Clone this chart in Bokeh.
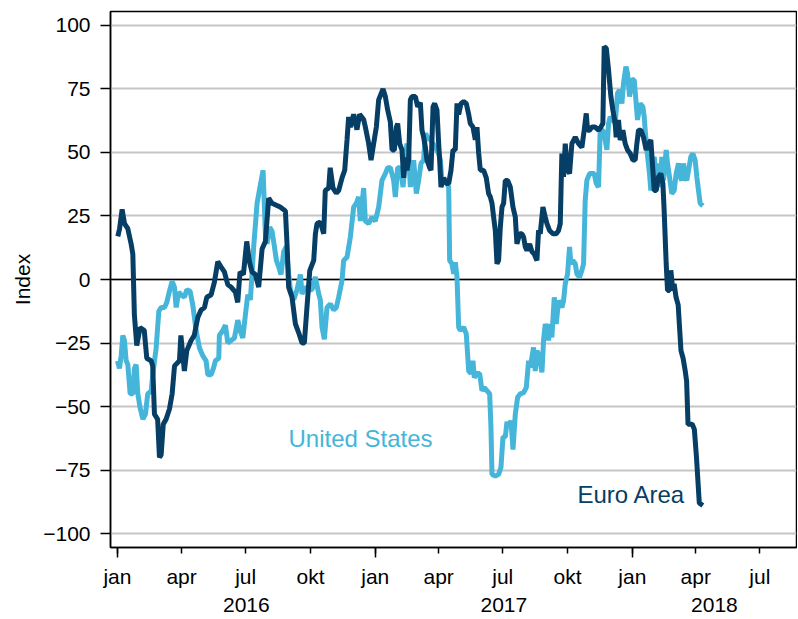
import pandas as pd
from bokeh.plotting import figure
from bokeh.models import (Range1d, FixedTicker, DatetimeAxis, Span, Label,
                          ColumnDataSource)
from bokeh.embed import file_html
from bokeh.resources import INLINE

# ---------------- data (days since 2016-01-01, index value) ----------------
start_date = "2016-01-01"

ea_days = [0.5, 3, 6.6, 10, 14.7, 19.4, 21.8, 24, 27.4, 32, 38, 41.6, 47.8, 50, 52.5, 57,
           59.6, 62, 65, 69, 73.8, 77.6, 81, 88, 90, 95, 98.4, 104.5, 109, 114, 118.7,
           123.5, 126.8, 133, 137.6, 142.4, 147, 151.8, 156.6, 161.3, 167.4, 170.7, 174,
           178.8, 183.5, 187.3, 191, 195.8, 200.5, 205.3, 210, 214.7, 219.4, 231, 238.4,
           240.7, 243, 247.8, 252.6, 257.3, 262, 265.3, 269, 273, 278.6, 281, 283.3, 288,
           292.8, 295, 299.9, 302, 306, 310.7, 314, 318.8, 322.6, 325.9, 328.2, 330.6,
           335.3, 340, 343.8, 349.5, 351.9, 356.6, 360, 363.7, 367.5, 370.8, 377, 380.3,
           383.6, 387.4, 389.8, 393.1, 395.9, 397.8, 400.6, 403.9, 406.3, 408.7, 411,
           413.4, 415.8, 418.1, 422.9, 426.2, 430, 432.3, 434.7, 437.1, 439.4, 443.2,
           445.1, 448, 450.3, 453.6, 456, 457.4, 459.3, 463.1, 466.9, 470.2, 473.5, 476.3,
           479.6, 482, 484.4, 487.7, 491.5, 495.2, 498.6, 500.9, 504.7, 508, 510.4, 512.7,
           515.1, 519.8, 523.6, 526.9, 529.3, 531.7, 534, 536.4, 538.8, 541.1, 543.5,
           545.9, 548.2, 550.6, 553.9, 557.7, 561.5, 564.8, 567.1, 570.9, 574.2, 576.6,
           579, 581.3, 585.1, 588.4, 591.7, 595.5, 597.8, 600.2, 604, 607.3, 609.7, 613.4,
           618.2, 622.9, 626.2, 628.6, 630.9, 633.3, 635.7, 639, 641.8, 645.1, 649.9,
           654.6, 659.3, 662.6, 665.5, 667.4, 670.2, 673.5, 678.2, 683, 686.3, 689.1, 691,
           694, 697, 700.5, 703.3, 706.6, 708, 711.3, 713.7, 717.5, 720.8, 724.1, 727.9,
           731.7, 735, 737.4, 739.7, 743, 746.8, 750.6, 753.9, 757.2, 760.1, 762, 764.8,
           768.1, 771.4, 774.3, 776.1, 779, 780.9, 783.7, 785.6, 788.4, 790.3, 793, 796,
           800, 803, 806, 808, 810, 816, 819, 822, 826, 831]
ea_vals = [17, 20, 27.6, 22, 20, 14, 10, -14, -26, -19, -20, -31, -32, -34, -53, -55,
           -70, -69, -57, -55, -51, -45, -34, -32, -22, -36, -28, -24, -22, -15, -12,
           -11, -7, -6, -1, 7, 5, 3, -2, -3, -5, -9, 3,
           2, 15, 7, 3, 2, -3, 12, 15, 32, 30, 28.5, 27,
           14, -3, -7, -17.5, -21, -25, -25, -11, 3.5, 7.5, 18, 22, 22.6,
           18, 35, 36, 44, 36, 34, 35, 40, 43, 55, 64, 60,
           65, 59, 65, 63, 60, 53.5, 47, 53.5, 60, 70.7, 75, 72,
           66.7, 62, 51, 51, 60, 61.4, 53.5, 51, 40, 48, 43,
           47, 70.7, 72, 72, 68, 69.6, 58.8, 56, 52, 47, 44,
           43, 68, 69.3, 66.7, 53.5, 47, 36.4, 40, 37.8, 37.8, 43, 51,
           51, 69.3, 65, 69.3, 70, 69.3, 65, 61.4, 60, 55, 60, 50,
           43, 43, 40, 33.8, 32.5, 30, 24.6, 19.3, 6.2, 7.5, 20.6,
           28.5, 30, 39, 39, 36.4, 28.5, 24.6, 14, 18, 18, 16.7,
           12.8, 11.4, 14, 11, 10, 7.5, 19.3, 18, 28.5, 24.6, 22, 19.3,
           18, 18, 19.3, 22, 49.6, 40.4, 53.5, 43, 41.7, 53.5, 56,
           53.5, 52, 58.8, 65.4, 58.8, 58.8, 60, 60, 58.8, 60, 61.4, 91.7,
           91, 83, 72, 66.7, 61.4, 56, 62.8, 54.9, 58.8, 53.5, 51, 49.6,
           47, 47, 53.5, 58.8, 58.8, 56, 51, 53.5, 54.9, 43, 35, 35,
           40.4, 41.7, 37.8, 27.2, 6.2, -4.3, -4.3, 3.6, -4.3, -1.7, -7, -10,
           -28, -31, -36, -40, -57, -57, -59, -70, -88, -89]

us_days = [0, 2.8, 5.2, 7.6, 9.9, 12.3, 14.7, 18, 21.8, 24.1, 26.5, 28.9, 32.2, 36, 39.7,
           43, 47.8, 50.1, 54.9, 58.7, 62, 66.7, 70, 73.8, 77.6, 80.9, 83.3, 87, 90.3, 95,
           98.4, 103.1, 106.9, 111.6, 116.4, 121.1, 125.8, 128.2, 132.9, 136.2, 139,
           143.8, 144.7, 149.5, 153.3, 156.6, 161.3, 166, 170.8, 174.1, 177.9, 181.6, 185,
           188.7, 193.4, 198.2, 206.7, 210, 212.4, 216.1, 219.4, 222.8, 225.6, 228.9,
           232.2, 236, 239.8, 243.1, 245.5, 250.2, 254.9, 259.7, 262, 266.7, 271.5, 276.2,
           280.9, 285.7, 288, 290.4, 293.7, 297.5, 302.2, 307, 310.7, 314, 318.8, 321.1,
           325.9, 330.6, 335.3, 339.1, 342.4, 344.8, 349.5, 351.9, 356.6, 361.3, 366,
           370.8, 375.5, 380.3, 383.6, 387.4, 392.1, 394.5, 397.8, 401.6, 405.4, 408.7,
           411, 413.4, 415.8, 420.5, 424.3, 427.6, 430.9, 434.7, 437.1, 440.4, 444.2, 448,
           451.3, 456, 458.4, 460.7, 464, 467.8, 470.2, 471.6, 474.9, 477.3, 479.6, 482,
           484.4, 486.7, 491.5, 495.2, 498.6, 501.9, 504.7, 506.6, 510.4, 514.2, 517.5,
           520.8, 524.6, 528.4, 530.2, 531.7, 536.4, 541.1, 544.4, 547.3, 550.6, 553,
           555.3, 558.7, 561.5, 564.8, 568.1, 571.9, 576.6, 580.4, 583.7, 586, 590.7,
           593.1, 595.5, 599.2, 602.6, 604.9, 607.3, 609.7, 612, 614.4, 616.7, 620.1,
           622.9, 626.2, 630.9, 633.3, 635.7, 639, 641.8, 643.7, 646.5, 649.9, 652.2, 656,
           659.3, 661.7, 664, 666.4, 670.2, 673.5, 676.8, 679.7, 683, 685.3, 689.1, 692.4,
           694.8, 697.2, 699.5, 703.3, 706.6, 709.9, 712.8, 716.1, 718.4, 721.8, 724.1,
           727, 730.3, 733.6, 736.4, 738.3, 742.1, 745.9, 747.8, 749.2, 751.6, 755.3,
           757.2, 760.1, 762, 764.8, 768.1, 770.5, 772.8, 775.2, 779, 780.9, 783.7, 787,
           790.3, 793.2, 796.5, 798.9, 801.2, 803.6, 805.9, 808.3, 810.7, 814, 816.8,
           820.1, 822.5, 824.9, 827.2, 831]
us_vals = [-32, -35, -30, -22, -24, -32, -33.5, -45, -45, -35, -33.5, -45, -50.6, -55, -53,
           -45, -44, -37.5, -27, -12.5, -11, -11, -9, -4.6, -0.7, -3, -11, -5, -6, -7,
           -4, -4.6, -10, -20, -27, -30, -32, -37.5, -37.5, -35, -32,
           -31, -22, -20, -18, -25, -24, -23, -16, -20, -23, -14, -6,
           -8, 13, 30, 43, 18, 14, 20.6, 19, 13, 7.5, 5,
           2, 11, 13, 2, -4, -8, -4, 2, -5.7, -3, -4, -4,
           1, -5.7, -8, -18.8, -23.5, -11, -9.6, -12, -11, -7, -0.4, 7.5,
           8.8, 16.7, 28.5, 30, 32.5, 23, 36, 23, 22, 24.6, 23,
           28.5, 39, 41.7, 44, 44, 39, 32.5, 44, 44, 36.4, 47,
           53.5, 49.6, 36.4, 47, 33.8, 39, 45.7, 47, 57.5, 56, 55, 53.5,
           52, 49.6, 47, 39, 39, 37.8, 36.4, 7.5, 6.2, 2.2, 6.8, 1,
           -18.8, -20, -18.8, -21.4, -36, -37, -32, -38.6, -37, -37, -43.8,
           -42.5, -43.8, -45, -58, -76.7, -77.4, -76.7, -74, -62, -62, -56,
           -58, -55.6, -67, -53, -46.4, -45, -44.5, -42.5, -32, -34.6, -26.7,
           -36, -28, -30.7, -36.6, -24, -17.5, -20, -24, -17.5, -22.8, -7,
           -17.5, -8.3, -11, -8.3, -1.7, 2.2, 12.8, 6.2, 7.5, 6.2, 2.2, 0.9,
           3.6, 6.2, 31, 39, 41.7, 41.7, 41.7, 37.8, 36.4, 58.8, 58.8, 54.9,
           51, 61.4, 64, 62.8, 61.4, 73.3, 74.6, 69.3, 77.2, 83.8, 81.2,
           72, 78.6, 78.6, 69.3, 62.8, 69.3, 68, 64, 58.8, 51, 41.7,
           35, 43, 48.3, 40.4, 45.7, 36.4, 48.3, 39, 51, 45.7, 40.4, 33.8,
           35, 41.7, 45.7, 40.4, 39, 45.7, 40.4, 39, 43, 48.3, 49.6,
           47, 40.4, 35, 30, 29]

y_ticks = [-100, -75, -50, -25, 0, 25, 50, 75, 100]
month_names = {1: "jan", 4: "apr", 7: "jul", 10: "okt"}
years = [2016, 2017, 2018]
series_names = ["United States", "Euro Area"]

DARK = "#063E66"
LIGHT = "#45B5DA"
FONT = "Liberation Sans"

t0 = pd.Timestamp(start_date)
ea_dates = t0 + pd.to_timedelta(ea_days, unit="D")
us_dates = t0 + pd.to_timedelta(us_days, unit="D")


def ms(ts):
    return int(pd.Timestamp(ts).value // 10**6)


x_start = ms(t0 - pd.Timedelta(days=9.9))
x_end = ms(t0 + pd.Timedelta(days=964.0))

p = figure(frame_width=686, frame_height=536, x_axis_type="datetime",
           x_range=Range1d(x_start, x_end), y_range=Range1d(-105.5, 105.5),
           output_backend="svg", toolbar_location=None,
           min_border_left=110, min_border_right=1, min_border_top=11,
           min_border_bottom=0, background_fill_color="white",
           border_fill_color="white")
p.outline_line_color = "black"
p.outline_line_width = 1.5
p.outline_line_alpha = 1

# grid
p.xgrid.visible = False
p.ygrid.ticker = FixedTicker(ticks=y_ticks)
p.ygrid.grid_line_color = "#c6c6c6"
p.ygrid.grid_line_width = 2
p.add_layout(Span(location=0, dimension="width", line_color="black",
                  line_width=1.5, level="underlay"))

# y axis
ya = p.yaxis[0]
ya.ticker = FixedTicker(ticks=y_ticks, minor_ticks=[])
ya.axis_label = "Index"
ya.axis_label_text_font = FONT
ya.axis_label_text_font_style = "normal"
ya.axis_label_text_font_size = "21px"
ya.axis_label_text_color = "black"
ya.axis_label_standoff = 6
ya.major_label_text_font = FONT
ya.major_label_text_font_size = "21px"
ya.major_label_text_color = "black"
ya.major_label_standoff = 10
ya.major_tick_out = 10
ya.major_tick_in = 0
ya.major_tick_line_width = 1.5
ya.major_tick_line_color = "black"
ya.axis_line_color = "black"
ya.axis_line_width = 1.5

# x axis: months
quarters = pd.date_range("2016-01-01", "2018-07-01", freq="QS")
q_ms = [ms(q) for q in quarters]
jan_ms = [ms(q) for q in quarters if q.month == 1]
xa = p.xaxis[0]
xa.ticker = FixedTicker(ticks=q_ms, minor_ticks=jan_ms)
xa.major_label_overrides = {ms(q): month_names[q.month] for q in quarters}
xa.major_tick_out = 6
xa.major_tick_in = 0
xa.minor_tick_out = 10
xa.minor_tick_in = 0
xa.major_tick_line_color = "black"
xa.minor_tick_line_color = "black"
xa.major_tick_line_width = 1.5
xa.minor_tick_line_width = 1.5
xa.axis_line_color = "black"
xa.axis_line_width = 1.5
xa.major_label_text_font = FONT
xa.major_label_text_font_size = "21px"
xa.major_label_text_color = "black"
xa.major_label_standoff = 7

# x axis: years centered on the visible part of each year
year_centers = []
for y in years:
    a = max(ms(pd.Timestamp(f"{y}-01-01")), x_start)
    b = min(ms(pd.Timestamp(f"{y + 1}-01-01")), x_end)
    year_centers.append(int((a + b) // 2))
ya2 = DatetimeAxis(ticker=FixedTicker(ticks=year_centers, minor_ticks=[]))
ya2.major_label_overrides = {c: str(y) for c, y in zip(year_centers, years)}
ya2.axis_line_color = None
ya2.major_tick_line_color = None
ya2.minor_tick_line_color = None
ya2.major_tick_out = 0
ya2.minor_tick_out = 0
ya2.major_tick_in = 0
ya2.minor_tick_in = 0
ya2.major_label_standoff = 7
ya2.major_label_text_font = FONT
ya2.major_label_text_font_size = "21px"
ya2.major_label_text_color = "black"
p.add_layout(ya2, "below")

# series
us_src = ColumnDataSource(dict(x=us_dates, y=us_vals))
ea_src = ColumnDataSource(dict(x=ea_dates, y=ea_vals))
p.line("x", "y", source=us_src, line_color=LIGHT, line_width=5)
p.line("x", "y", source=ea_src, line_color=DARK, line_width=5)

# series labels
p.add_layout(Label(x=ms(t0 + pd.Timedelta(days=242.8)), y=-62.6, text=series_names[0],
                   text_color=LIGHT, text_font=FONT, text_font_size="24px",
                   text_baseline="middle", text_align="left"))
p.add_layout(Label(x=ms(t0 + pd.Timedelta(days=653)), y=-84.6, text=series_names[1],
                   text_color=DARK, text_font=FONT, text_font_size="24px",
                   text_baseline="middle", text_align="left"))

open("out.html", "w").write(file_html(p, INLINE))
